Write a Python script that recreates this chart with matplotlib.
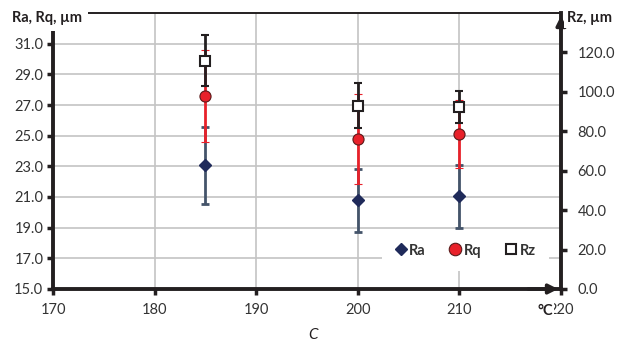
import matplotlib.pyplot as plt
from matplotlib.lines import Line2D

plt.rcParams['font.family'] = ['Lato', 'DejaVu Sans']

temps = [185, 200, 210]
ra = [23.07, 20.8, 21.05]
ra_err = [2.52, 2.05, 2.05]
rq = [27.6, 24.8, 25.1]
rq_err = [3.0, 2.95, 2.2]
rz = [115.9, 92.9, 92.4]
rz_err = [12.8, 11.4, 7.95]

x_ticks = [170, 180, 190, 200, 210, 220]
left_ticks = [15, 17, 19, 21, 23, 25, 27, 29, 31]
right_ticks = [0, 20, 40, 60, 80, 100, 120]

ra_color = '#1F2A5A'
ra_bar = '#44546A'
rq_color = '#E8212A'
rz_bar = '#231F20'

fig = plt.figure(figsize=(6.2, 3.43), dpi=100)
ax = fig.add_axes([53 / 620, 54 / 343, 508 / 620, 276 / 343])
ax2 = ax.twinx()

ax.set_xlim(170, 220)
ax.set_ylim(15, 33)
ax2.set_ylim(0, 140)

ax.set_xticks(x_ticks)
ax.set_xticklabels([str(t) for t in x_ticks])
ax.set_yticks(left_ticks)
ax.set_yticklabels([f'{t:.1f}' for t in left_ticks])
ax2.set_yticks(right_ticks)
ax2.set_yticklabels([f'{t:.1f}' for t in right_ticks])

ax.grid(True, color='#C4C4C4', lw=1.2)
ax.set_axisbelow(True)

for a in (ax, ax2):
    for s in a.spines.values():
        s.set_color('#231F20')
    a.spines['top'].set_linewidth(1.2)
    a.spines['left'].set_linewidth(2.8)
    a.spines['bottom'].set_linewidth(2.8)
    a.spines['right'].set_linewidth(2.8)
    a.tick_params(width=2.5, length=4, colors='#231F20', labelsize=10.5,
                  labelcolor='#333333')
ax2.spines['left'].set_visible(False)
ax2.spines['bottom'].set_visible(False)
ax.spines['right'].set_visible(False)
ax.tick_params(axis='x', pad=6)
ax.tick_params(axis='y', pad=3)
ax2.tick_params(axis='y', pad=8)

ax.errorbar(temps, ra, yerr=ra_err, fmt='D', color=ra_color, ecolor=ra_bar,
            ms=6.5, elinewidth=2, capsize=3, capthick=2, zorder=3)
ax.errorbar(temps, rq, yerr=rq_err, fmt='o', color=rq_color, mec='#5A1A1A',
            mew=0.8, ecolor=rq_color, ms=8, elinewidth=2, capsize=3,
            capthick=2, zorder=4)
ax2.errorbar(temps, rz, yerr=rz_err, fmt='s', mfc='white', mec='#231F20',
             mew=1.5, ecolor=rz_bar, ms=7, elinewidth=2, capsize=3,
             capthick=2, zorder=5)

# axis arrows
ax.annotate('', xy=(1.0, 0), xytext=(0.93, 0), xycoords='axes fraction',
            arrowprops=dict(arrowstyle='-|>', color='#231F20', lw=2.5,
                            mutation_scale=14), annotation_clip=False)
ax2.annotate('', xy=(1.0, 1.0), xytext=(1.0, 0.93), xycoords='axes fraction',
             arrowprops=dict(arrowstyle='-|>', color='#231F20', lw=2.5,
                             mutation_scale=14), annotation_clip=False)

fig.text(12 / 620, 1 - 18 / 343, 'Ra, Rq, µm', fontsize=10.5, fontweight='bold',
         color='#231F20', va='center', ha='left',
         bbox=dict(facecolor='white', edgecolor='none', pad=4))
fig.text(567 / 620, 1 - 18 / 343, 'Rz, µm', fontsize=10.5, fontweight='bold',
         color='#231F20', va='center', ha='left',
         bbox=dict(facecolor='white', edgecolor='none', pad=2))
fig.text(545 / 620, 1 - 311 / 343, '°C', fontsize=10.5, fontweight='bold',
         color='#231F20', va='center', ha='center',
         bbox=dict(facecolor='white', edgecolor='none', pad=1))
fig.text(313 / 620, 1 - 335 / 343, 'C', fontsize=11, style='italic',
         color='#231F20', va='center', ha='center')

handles = [
    Line2D([], [], ls='none', marker='D', color=ra_color, ms=6),
    Line2D([], [], ls='none', marker='o', color=rq_color, mec='#5A1A1A',
           mew=0.8, ms=9),
    Line2D([], [], ls='none', marker='s', mfc='white', mec='#231F20',
           mew=1.5, ms=7),
]
leg = ax2.legend(handles, ['Ra', 'Rq', 'Rz'], loc='lower right', ncol=3,
                 bbox_to_anchor=(0.99, 0.04), frameon=True, framealpha=1,
                 edgecolor='none', fancybox=False, handlelength=0.8,
                 handletextpad=0.2, columnspacing=1.6, borderpad=0.9,
                 prop={'weight': 'bold', 'size': 10.5})
for t in leg.get_texts():
    t.set_color('#333333')

fig.savefig('out.png', dpi=100)
